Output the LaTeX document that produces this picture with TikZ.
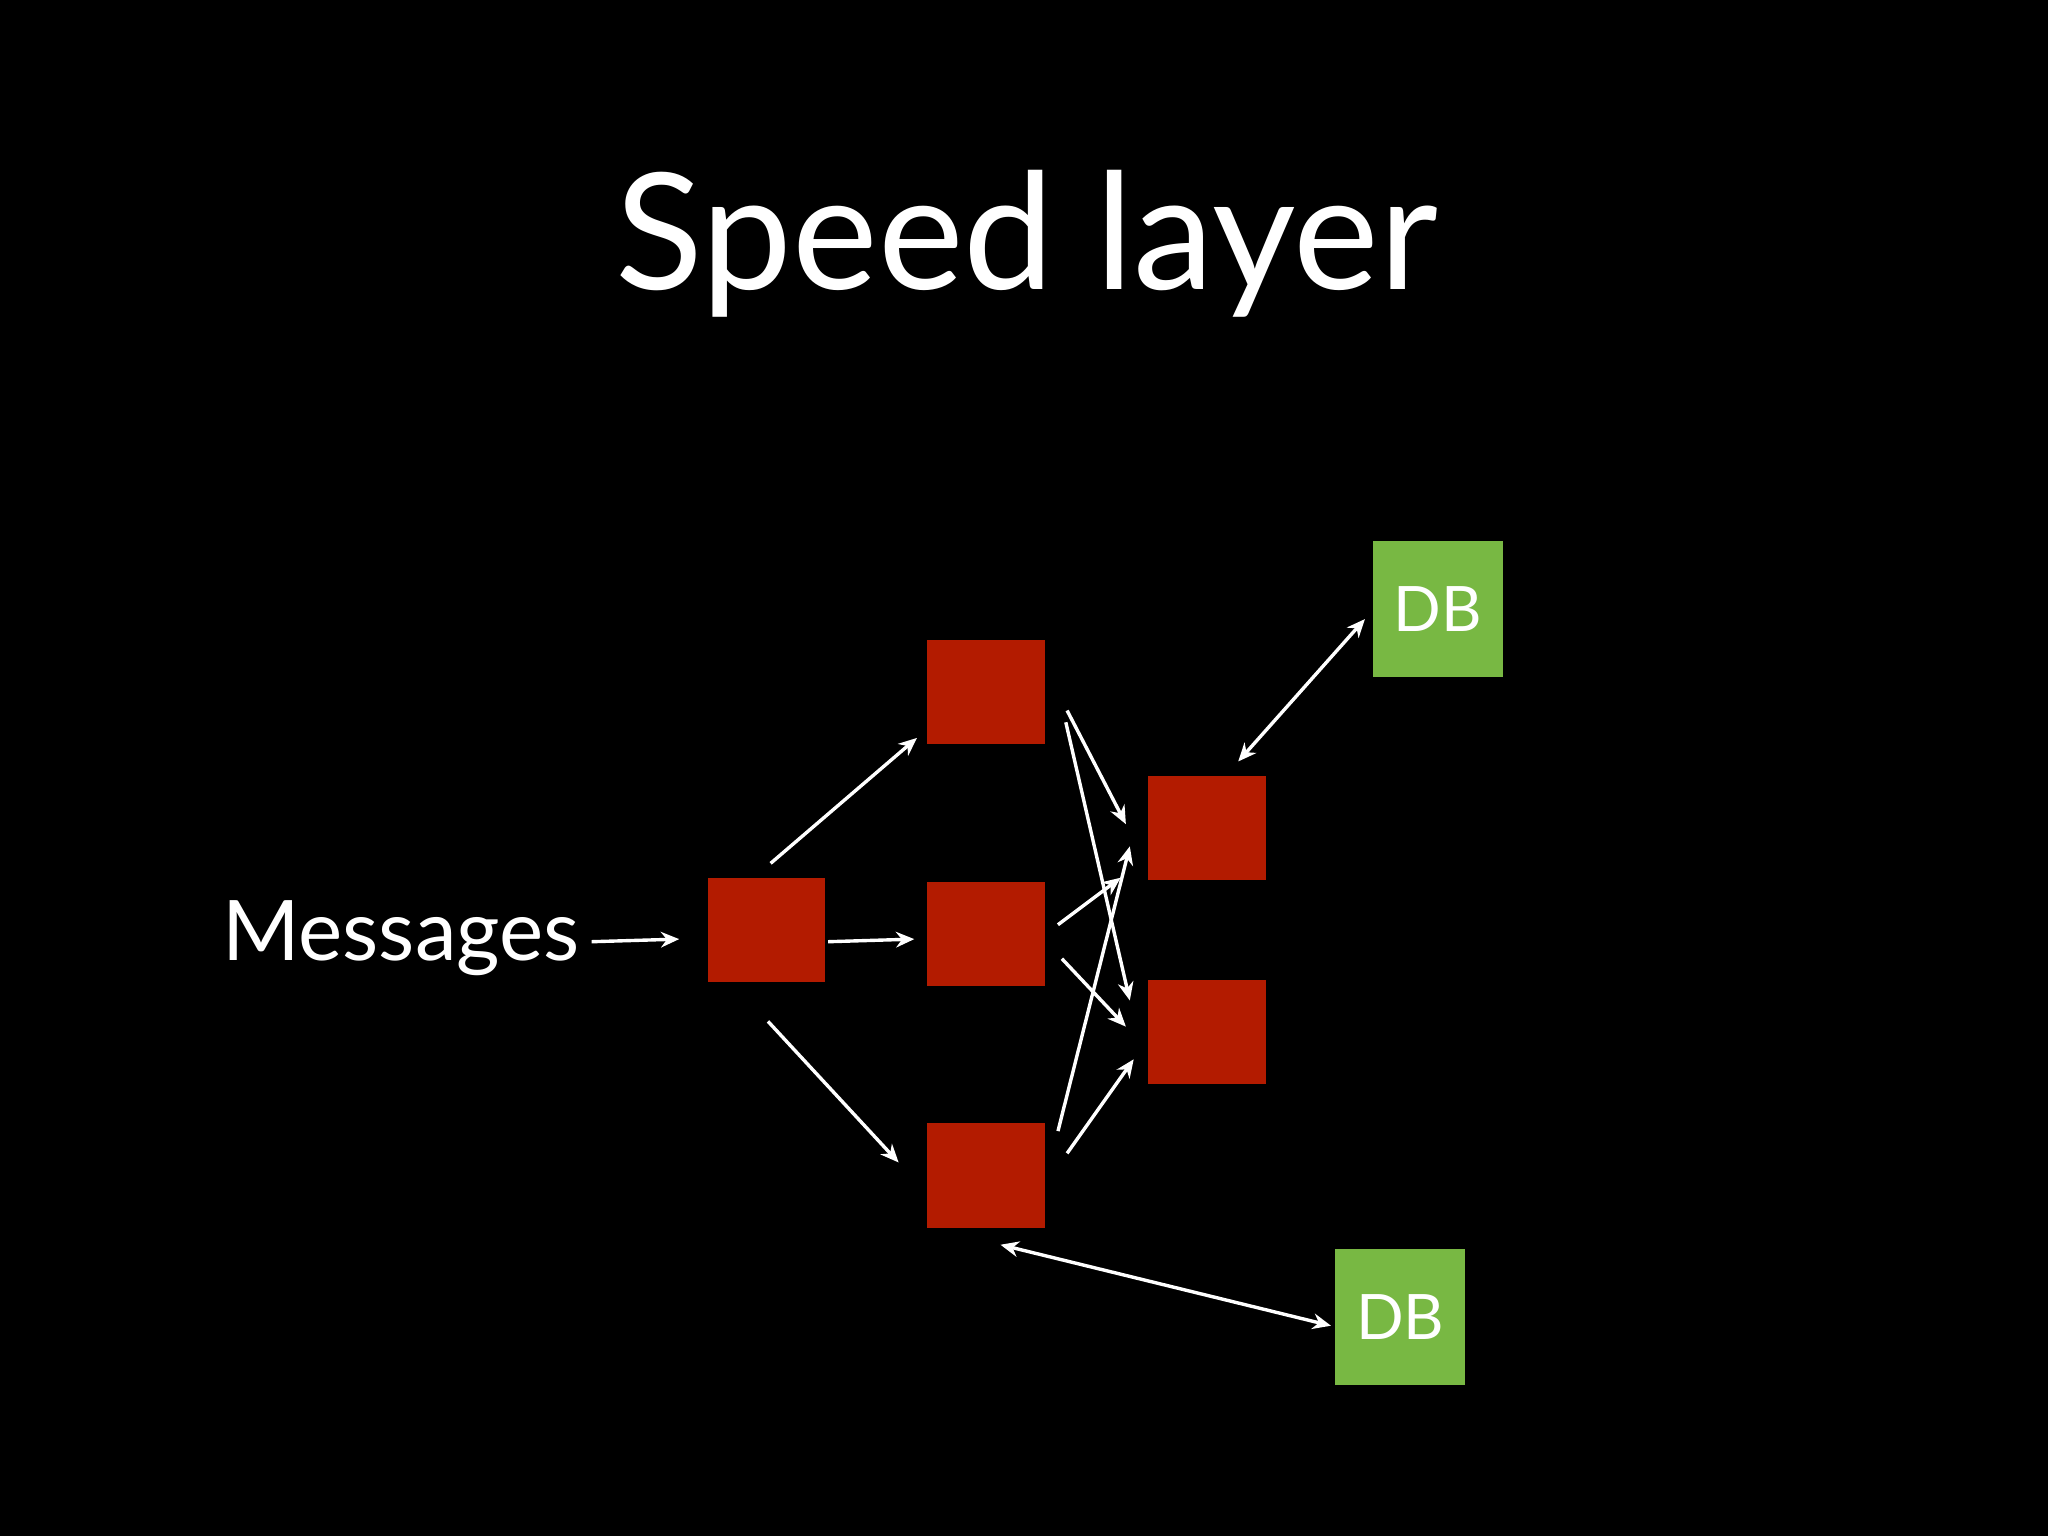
\documentclass[tikz,border=0pt]{standalone}
\usepackage{fontspec}
\setmainfont{Lato}
\usetikzlibrary{arrows.meta}
\definecolor{redbox}{HTML}{B31B00}
\definecolor{greenbox}{HTML}{78B843}
\tikzset{
  rbox/.style={fill=redbox,draw=none,minimum width=45pt,minimum height=40pt,inner sep=0pt},
  gbox/.style={fill=greenbox,draw=none,minimum width=50pt,minimum height=52pt,inner sep=0pt,text=white,font=\fontsize{24}{24}\selectfont},
  arr/.style={white,line width=1.3pt,-{Stealth[length=7pt,width=6pt]}},
  barr/.style={white,line width=1.3pt,{Stealth[length=7pt,width=6pt]}-{Stealth[length=7pt,width=6pt]}}
}
\begin{document}
\begin{tikzpicture}[x=0.5pt,y=-0.5pt]
\fill[black] (0,0) rectangle (1568,1176);
\useasboundingbox (0,0) rectangle (1568,1176);
\node[anchor=base,text=white,font=\fontsize{62}{62}\selectfont] (title) at (786,222) {Speed layer};
\node[anchor=base,text=white,font=\fontsize{32}{32}\selectfont] (msg) at (307,735) {Messages};
\node[rbox] (A) at (587,712) {};
\node[rbox] (B1) at (755,530) {};
\node[rbox] (B2) at (755,715) {};
\node[rbox] (B3) at (755,900) {};
\node[rbox] (C1) at (924,634) {};
\node[rbox] (C2) at (924,790) {};
\node[gbox] (D1) at (1101,466) {DB};
\node[gbox] (D2) at (1072,1008) {DB};
\draw[arr] (453,721) -- (520,719);
\draw[arr] (590,661) -- (702,565);
\draw[arr] (634,721) -- (700,719);
\draw[arr] (588,782) -- (688,890);
\draw[arr] (817,544) -- (862,631);
\draw[arr] (816,553) -- (865,766);
\draw[arr] (810,708) -- (858,672);
\draw[arr] (813,734) -- (862,786);
\draw[arr] (810,866) -- (865,648);
\draw[arr] (817,883) -- (868,811);
\draw[barr] (948,583) -- (1045,474);
\draw[barr] (766,953) -- (1019,1015);
\end{tikzpicture}
\end{document}
